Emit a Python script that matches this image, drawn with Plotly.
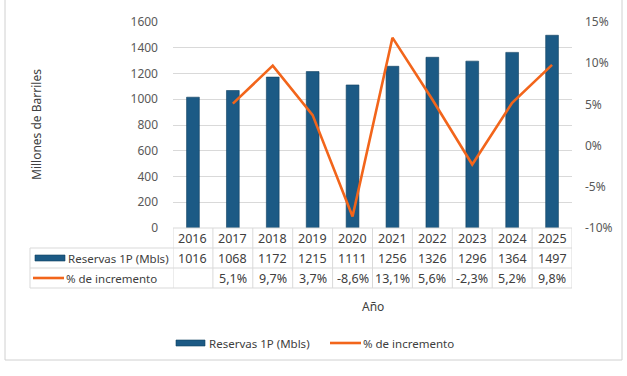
import plotly.graph_objects as go

years = ["2016", "2017", "2018", "2019", "2020", "2021", "2022", "2023", "2024", "2025"]
reservas = [1016, 1068, 1172, 1215, 1111, 1256, 1326, 1296, 1364, 1497]
incremento = [None, 5.1, 9.7, 3.7, -8.6, 13.1, 5.6, -2.3, 5.2, 9.8]
incremento_labels = ["", "5,1%", "9,7%", "3,7%", "-8,6%", "13,1%", "5,6%", "-2,3%", "5,2%", "9,8%"]
y_ticks = [0, 200, 400, 600, 800, 1000, 1200, 1400, 1600]
y2_ticks = [-10, -5, 0, 5, 10, 15]
y2_labels = ["-10%", "-5%", "0%", "5%", "10%", "15%"]

W, H = 627, 376
L, R, T, B = 173, 572, 22, 228
BAR_C = "#1C5A85"
LINE_C = "#F2651B"
GRID_C = "#D9D9D9"
TXT_C = "#404040"
FONT = "Noto Sans"


def px(xp):
    return (xp - L) / (R - L)


def py(yp):
    return (B - yp) / (B - T)


fig = go.Figure()
fig.add_trace(go.Bar(x=years, y=reservas, name="Reservas 1P (Mbls)",
                     marker=dict(color=BAR_C, line=dict(color="#0F3F60", width=0.6)),
                     width=0.32, yaxis="y"))
fig.add_trace(go.Scatter(x=years, y=incremento, name="% de incremento", mode="lines",
                         line=dict(color=LINE_C, width=2.6), yaxis="y2", connectgaps=False))

shapes = []
annotations = []


def txt(x, y, text, xref="paper", xanchor="center", size=11.5, **kw):
    annotations.append(dict(x=x, y=y, xref=xref, yref="paper", text=text, showarrow=False,
                            xanchor=xanchor, yanchor="middle",
                            font=dict(size=size, color=TXT_C, family=FONT), **kw))


# outer border
shapes.append(dict(type="rect", xref="paper", yref="paper", x0=px(5), x1=px(622), y0=py(360), y1=py(-5),
                   line=dict(color="#D0D0D0", width=1), fillcolor="rgba(0,0,0,0)", layer="below"))

# table lines
row_y = [228, 248, 268, 288]
for i, yy in enumerate(row_y):
    x0 = L if i == 0 else 30
    shapes.append(dict(type="line", xref="paper", yref="paper", x0=px(x0), x1=1, y0=py(yy), y1=py(yy),
                       line=dict(color=GRID_C, width=1)))
for k in range(len(years) + 1):
    shapes.append(dict(type="line", xref="x", yref="paper", x0=k - 0.5, x1=k - 0.5, y0=py(228), y1=py(288),
                       line=dict(color=GRID_C, width=1)))
shapes.append(dict(type="line", xref="paper", yref="paper", x0=px(30), x1=px(30), y0=py(248), y1=py(288),
                   line=dict(color=GRID_C, width=1)))

# table text
for i, yr in enumerate(years):
    txt(i, py(238), yr, xref="x", size=12.5)
    txt(i, py(258), str(reservas[i]), xref="x", size=12.5)
    txt(i, py(278), incremento_labels[i], xref="x", size=12.5)

# table legend keys
shapes.append(dict(type="rect", xref="paper", yref="paper", x0=px(35), x1=px(65), y0=py(261), y1=py(255),
                   fillcolor=BAR_C, line=dict(color="#0F3F60", width=0.6)))
shapes.append(dict(type="line", xref="paper", yref="paper", x0=px(33), x1=px(64), y0=py(278), y1=py(278),
                   line=dict(color=LINE_C, width=2.6)))
txt(px(66), py(258), "Reservas 1P (Mbls)", xanchor="left")
txt(px(64), py(278), "% de incremento", xanchor="left")

# axis titles
txt(0.5, py(306), "Año", size=12)
txt(px(36), py(125), "Millones de Barriles", size=12, textangle=-90)

# bottom legend
shapes.append(dict(type="rect", xref="paper", yref="paper", x0=px(176), x1=px(205), y0=py(346), y1=py(340),
                   fillcolor=BAR_C, line=dict(color="#0F3F60", width=0.6)))
txt(px(207), py(343), "Reservas 1P (Mbls)", xanchor="left")
shapes.append(dict(type="line", xref="paper", yref="paper", x0=px(330), x1=px(361), y0=py(343), y1=py(343),
                   line=dict(color=LINE_C, width=2.6)))
txt(px(361), py(343), "% de incremento", xanchor="left")

fig.update_layout(
    width=W, height=H,
    margin=dict(l=L, r=W - R, t=T, b=H - B, pad=0),
    paper_bgcolor="white", plot_bgcolor="white",
    showlegend=False,
    font=dict(family=FONT, color=TXT_C),
    xaxis=dict(type="category", showticklabels=False, showgrid=False, zeroline=False, showline=False,
               ticks="", range=[-0.5, 9.5]),
    yaxis=dict(range=[0, 1600], tickvals=y_ticks, showgrid=True, gridcolor=GRID_C, gridwidth=1, zeroline=False,
               showline=False, ticks="", ticklabelstandoff=14, tickfont=dict(size=12, color="#595959", family=FONT)),
    yaxis2=dict(range=[-10, 15], tickvals=y2_ticks, ticktext=y2_labels, overlaying="y", side="right",
                showgrid=False, zeroline=False, showline=False, ticks="", ticklabelstandoff=12,
                tickfont=dict(size=12, color="#595959", family=FONT)),
    shapes=shapes,
    annotations=annotations,
)

fig.write_html("out.html")
